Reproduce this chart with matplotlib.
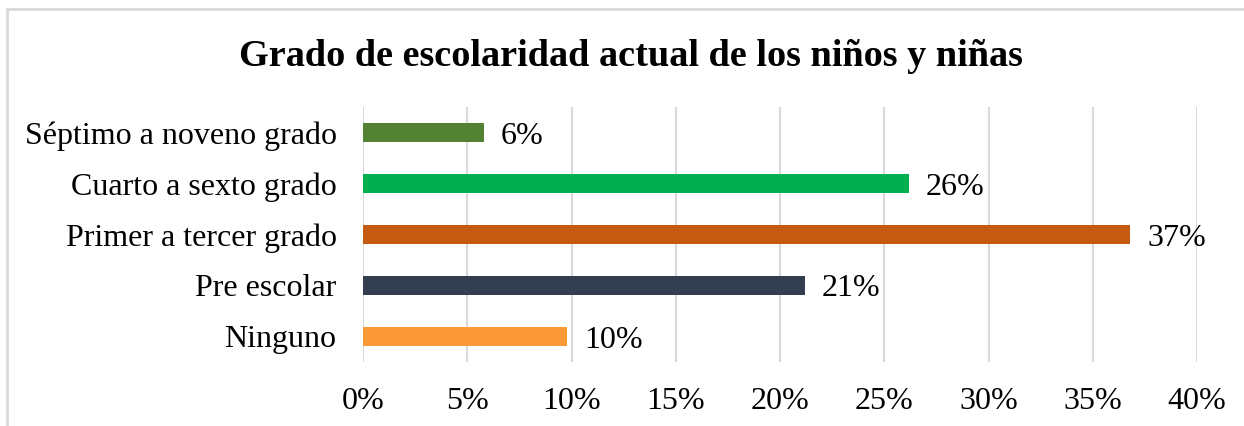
import matplotlib.pyplot as plt
from matplotlib.patches import Rectangle

categories = ['Ninguno', 'Pre escolar', 'Primer a tercer grado',
              'Cuarto a sexto grado', 'Séptimo a noveno grado']
values = [9.8, 21.2, 36.8, 26.2, 5.8]
colors = ['#FD9A38', '#333F50', '#C55A11', '#00B050', '#548235']
xticks = [0, 5, 10, 15, 20, 25, 30, 35, 40]

plt.rcParams['font.family'] = ['Liberation Serif', 'DejaVu Serif']

fig = plt.figure(figsize=(12.44, 4.26), dpi=100)
ax = fig.add_axes([363 / 1244, 1 - 362 / 426, (1197 - 363) / 1244, (362 - 107) / 426])

# chart frame, cropped on the right and bottom
fig.patches.append(Rectangle((7 / 1244, -0.1), 1.2, 1 - 9 / 426 + 0.1,
                             transform=fig.transFigure, fill=False,
                             edgecolor='#D9D9D9', linewidth=2))

ypos = list(range(len(categories)))
ax.barh(ypos, values, height=0.36, color=colors, zorder=3)
for y, v in zip(ypos, values):
    ax.text(v + 0.8, y, f"{v:.0f}%", va='center_baseline', ha='left', fontsize=23)

ax.set_xlim(0, 40)
ax.set_ylim(-0.5, len(categories) - 0.5)
ax.set_xticks(xticks)
ax.set_xticklabels([f"{t}%" for t in xticks], fontsize=23)
ax.set_yticks(ypos)
ax.set_yticklabels(categories, fontsize=23)
ax.tick_params(length=0)
ax.tick_params(axis='x', pad=18)
ax.tick_params(axis='y', pad=19)
ax.grid(axis='x', color='#D9D9D9', linewidth=1.5, zorder=0)
for s in ax.spines.values():
    s.set_visible(False)

fig.text(631 / 1244, 1 - 57 / 426, 'Grado de escolaridad actual de los niños y niñas',
         ha='center', va='center', fontsize=27.5, fontweight='bold')

fig.savefig('out.png', dpi=100)
